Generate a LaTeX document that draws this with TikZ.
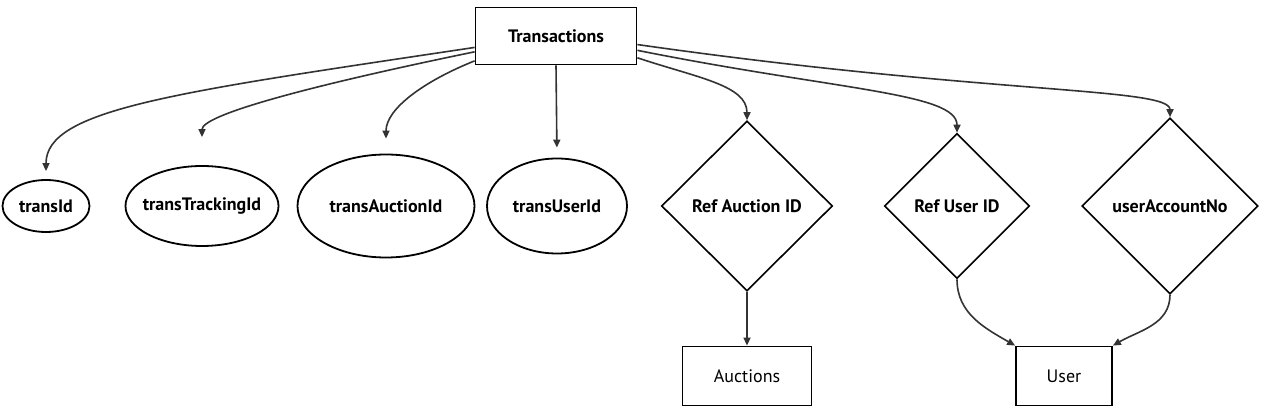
\documentclass[tikz,border=0pt]{standalone}
\usepackage{fontspec}
\setmainfont{PT Sans}
\usetikzlibrary{shapes.geometric,arrows.meta}
\definecolor{edgegray}{HTML}{333333}
\begin{document}
\begin{tikzpicture}[x=1pt,y=1pt,
	entity/.style={draw,line width=1.8pt,inner sep=0,font=\fontsize{18}{21}\selectfont},
	attr/.style={ellipse,draw,line width=1.8pt,inner sep=0,font=\bfseries\fontsize{18}{21}\selectfont},
	rel/.style={diamond,draw,line width=1.6pt,inner sep=0,font=\bfseries\fontsize{18}{21}\selectfont},
	arr/.style={-{Triangle[length=8pt,width=7pt]},line width=1.6pt,edgegray}]
	\useasboundingbox (0,0) rectangle (1280,417);
	\node[entity,minimum width=161,minimum height=57,font=\bfseries\fontsize{18}{21}\selectfont] (trans) at(556,381) {Transactions};
	
	\node[attr,minimum width=87,minimum height=52] (tid) at(46,211) {transId};
	\node[attr,minimum width=153,minimum height=80,inner xsep=-10pt] (ttid) at(202,211) {transTrackingId};
	\node[attr,minimum width=177,minimum height=103] (taid) at(386,211) {transAuctionId};
	\node[attr,minimum width=140,minimum height=95] (tuid) at(557,211) {transUserId};
	
	\node[rel,minimum width=171,minimum height=170] (rauc) at(747,211) {Ref Auction ID};
	\node[rel,minimum width=145,minimum height=145] (ruser) at(957,211) {Ref User ID};
	\node[rel,minimum width=176,minimum height=176] (uacc) at(1170,211) {userAccountNo};
	
	\node[entity,minimum width=129,minimum height=59] (auc) at(747,41) {Auctions};
	\node[entity,minimum width=96,minimum height=59] (user) at(1064,41) {User};
	
	% attributes
	\draw[arr,shorten >=8pt] (trans.188) .. controls +(-300,-45) and +(0,70) .. (tid.north);
	\draw[arr,shorten >=28pt] (trans.191) .. controls +(-170,-35) and +(0,50) .. (ttid.north);
	\draw[arr,shorten >=15pt] (trans.197) .. controls +(-50,-20) and +(0,45) .. (taid.north);
	\draw[arr,shorten >=10pt] (trans.south) -- (tuid.north);
	
	% relations
	\draw[arr] (trans.345) .. controls +(60,-20) and +(0,35) .. (rauc.north);
	\draw[arr] (trans.350) .. controls +(200,-40) and +(0,40) .. (ruser.north);
	\draw[arr] (trans.354) .. controls +(350,-50) and +(0,30) .. (uacc.north);
	
	\draw[arr] (rauc.south) -- (auc.north);
	\draw[arr] (ruser.south) to[out=-90,in=150] (user.north west);
	\draw[arr] (uacc.south) to[out=-90,in=30] (user.north east);
\end{tikzpicture}
\end{document}
